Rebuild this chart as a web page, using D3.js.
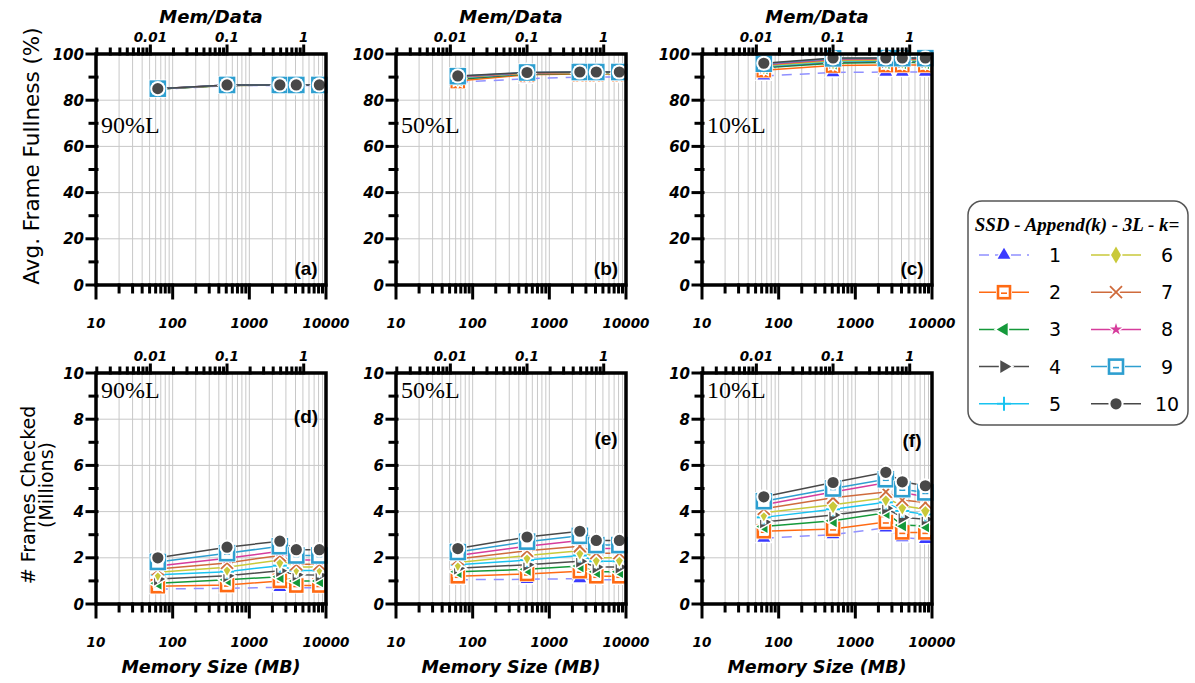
<!DOCTYPE html>
<html><head><meta charset="utf-8">
<script src="https://cdn.jsdelivr.net/npm/d3@7"></script>
<style>body{margin:0;background:#fff}svg{display:block}</style>
</head><body>
<svg id="c" width="1195" height="683"></svg>
<script>
// ---------------- DATA ----------------
const memorySizes = [64, 512, 2500, 4096, 8192];   // MB
const dataSizeMB = 5120;                            // Mem/Data = memory / dataSize
const seriesK = [1,2,3,4,5,6,7,8,9,10];
const xTickLabels = ["10","100","1000","10000"];
const topTickLabels = ["0.01","0.1","1"];
const loadLabels = ["90%L","50%L","10%L"];
const panelTags = ["(a)","(b)","(c)","(d)","(e)","(f)"];

// Avg. Frame Fullness (%), one row per k = 1..10
const fullness90 = [
  [84.7,86.3,86.4,86.4,86.4],[84.8,86.4,86.5,86.5,86.5],[84.8,86.4,86.5,86.5,86.5],
  [84.9,86.5,86.5,86.5,86.5],[84.9,86.5,86.5,86.5,86.5],[85.0,86.5,86.6,86.6,86.6],
  [85.0,86.5,86.6,86.6,86.6],[85.0,86.6,86.6,86.6,86.6],[85.0,86.6,86.6,86.6,86.6],
  [85.0,86.6,86.6,86.6,86.6]];
const fullness50 = [
  [87.8,89.3,90.0,90.0,90.0],[88.3,91.0,91.3,91.3,91.3],[89.0,91.4,91.6,91.6,91.6],
  [89.3,91.5,91.7,91.7,91.7],[89.6,91.6,91.8,91.8,91.8],[89.8,91.7,91.9,91.9,91.9],
  [90.0,91.8,92.0,92.0,92.0],[90.2,91.9,92.1,92.1,92.1],[90.4,92.0,92.2,92.2,92.2],
  [90.5,92.0,92.2,92.2,92.2]];
const fullness10 = [
  [90.5,92.0,92.2,92.2,92.2],[93.0,95.0,95.2,95.2,95.2],[94.0,96.0,96.3,96.3,96.3],
  [94.3,96.4,96.7,96.7,96.7],[94.6,96.8,97.1,97.1,97.1],[94.9,97.1,97.4,97.4,97.4],
  [95.2,97.5,97.7,97.7,97.7],[95.5,97.8,98.0,98.0,98.0],[95.8,98.1,98.2,98.2,98.2],
  [96.0,98.3,98.3,98.3,98.3]];
// # Frames Checked (Millions)
const checked90 = [
  [0.65,0.68,0.72,0.70,0.70],[0.77,0.82,1.00,0.80,0.80],[0.90,1.05,1.18,1.00,1.00],
  [1.08,1.22,1.44,1.27,1.25],[1.27,1.40,1.66,1.45,1.45],[1.37,1.59,1.90,1.60,1.60],
  [1.52,1.78,2.10,1.72,1.72],[1.65,1.98,2.28,1.90,1.90],[1.82,2.20,2.50,2.10,2.10],
  [2.00,2.46,2.72,2.35,2.35]];
const checked50 = [
  [1.05,1.07,1.10,1.05,1.05],[1.20,1.30,1.42,1.20,1.20],[1.40,1.50,1.65,1.40,1.40],
  [1.55,1.70,1.85,1.60,1.60],[1.70,1.90,2.10,1.85,1.85],[1.80,2.10,2.30,2.00,2.00],
  [1.95,2.30,2.50,2.20,2.20],[2.10,2.50,2.75,2.40,2.40],[2.25,2.70,2.95,2.55,2.55],
  [2.40,2.90,3.15,2.75,2.75]];
const checked10 = [
  [2.85,3.00,3.30,2.87,2.80],[3.15,3.25,3.55,3.10,3.10],[3.35,3.60,3.95,3.42,3.38],
  [3.55,3.85,4.15,3.75,3.67],[3.75,4.10,4.40,4.03,3.88],[3.95,4.30,4.60,4.25,4.10],
  [4.12,4.60,4.85,4.50,4.39],[4.30,4.85,5.25,4.83,4.64],[4.45,5.00,5.40,4.97,4.83],
  [4.64,5.26,5.70,5.29,5.12]];

// ---------------- STYLE ----------------
const lineColors   = ["#9090ff","#ff6a13","#14993a","#4d4d4d","#19c3f0","#c9c93a","#cf6b3c","#d63c9c","#2e9fd0","#484848"];
const markerColors = ["#3a3aff","#ff6a13","#14993a","#4d4d4d","#19c3f0","#c9c93a","#cf6b3c","#d63c9c","#2e9fd0","#484848"];
const shapes = ["triUp","sqDash","triLeft","triRight","plus","diamond","x","star","sqDashBig","circle"];

const panelX = [96, 396, 702], panelW = 230;
const rowY = [54, 373], panelH = 231;
const gridColor = "#c8c8c8";
const tickFont = "'DejaVu Sans', sans-serif";

const svg = d3.select("#c");

function drawMarker(g, k, cx, cy) {
  const c = markerColors[k-1], sh = shapes[k-1];
  const m = g.append("g").attr("transform", `translate(${cx},${cy})`);
  const halo = (sel, w) => sel.attr("stroke","#fff").attr("stroke-width",w).attr("paint-order","stroke");
  if (sh === "triUp" || sh === "triLeft" || sh === "triRight") {
    const rot = sh === "triUp" ? 0 : (sh === "triLeft" ? -90 : 90);
    halo(m.append("path").attr("d", d3.symbol(d3.symbolTriangle, 70)()).attr("fill", c)
      .attr("transform", `rotate(${rot})`), 3);
  } else if (sh === "sqDash" || sh === "sqDashBig") {
    const s = sh === "sqDash" ? 12 : 14;
    m.append("rect").attr("x",-s/2-2).attr("y",-s/2-2).attr("width",s+4).attr("height",s+4).attr("fill","#fff");
    m.append("rect").attr("x",-s/2).attr("y",-s/2).attr("width",s).attr("height",s)
      .attr("fill","#fff").attr("stroke",c).attr("stroke-width",2.6);
    m.append("line").attr("x1",-3).attr("x2",3).attr("y1",1).attr("y2",1).attr("stroke",c).attr("stroke-width",1.6);
  } else if (sh === "plus") {
    [[-7,0,7,0],[0,-7,0,7]].forEach(d => m.append("line").attr("x1",d[0]).attr("y1",d[1]).attr("x2",d[2]).attr("y2",d[3])
      .attr("stroke","#fff").attr("stroke-width",5));
    [[-7,0,7,0],[0,-7,0,7]].forEach(d => m.append("line").attr("x1",d[0]).attr("y1",d[1]).attr("x2",d[2]).attr("y2",d[3])
      .attr("stroke",c).attr("stroke-width",2));
  } else if (sh === "diamond") {
    halo(m.append("path").attr("d", d3.symbol(d3.symbolDiamond, 85)()).attr("fill", c), 3);
  } else if (sh === "x") {
    [[-6,-6,6,6],[-6,6,6,-6]].forEach(d => m.append("line").attr("x1",d[0]).attr("y1",d[1]).attr("x2",d[2]).attr("y2",d[3])
      .attr("stroke","#fff").attr("stroke-width",5));
    [[-6,-6,6,6],[-6,6,6,-6]].forEach(d => m.append("line").attr("x1",d[0]).attr("y1",d[1]).attr("x2",d[2]).attr("y2",d[3])
      .attr("stroke",c).attr("stroke-width",1.8));
  } else if (sh === "star") {
    halo(m.append("path").attr("d", d3.symbol(d3.symbolStar, 45)()).attr("fill", c), 2.5);
  } else if (sh === "circle") {
    m.append("circle").attr("r",6.6).attr("fill",c).attr("stroke","#fff").attr("stroke-width",2);
  }
}

const panels = [
  {row:0,col:0,vals:fullness90,yMax:100,yStep:20,tagPos:[306,268]},
  {row:0,col:1,vals:fullness50,yMax:100,yStep:20,tagPos:[306,268]},
  {row:0,col:2,vals:fullness10,yMax:100,yStep:20,tagPos:[306,268]},
  {row:1,col:0,vals:checked90,yMax:10,yStep:2,tagPos:[306,416]},
  {row:1,col:1,vals:checked50,yMax:10,yStep:2,tagPos:[306,438]},
  {row:1,col:2,vals:checked10,yMax:10,yStep:2,tagPos:[306,440]}
];

const bottomTicks = [];
for (let e = 1; e <= 3; e++) for (let m = 1; m <= 9; m++) bottomTicks.push(m * Math.pow(10, e));
bottomTicks.push(10000);

panels.forEach((p, i) => {
  const x0 = panelX[p.col], y0 = rowY[p.row];
  const x = d3.scaleLog().domain([10, 10000]).range([x0, x0 + panelW]);
  const xt = d3.scaleLog().domain([10 / dataSizeMB, 10000 / dataSizeMB]).range([x0, x0 + panelW]);
  const y = d3.scaleLinear().domain([0, p.yMax]).range([y0 + panelH, y0]);
  const g = svg.append("g");

  g.selectAll(".vg").data(bottomTicks.filter(d => d > 10 && d < 10000)).join("line")
    .attr("x1", d => x(d)).attr("x2", d => x(d)).attr("y1", y0).attr("y2", y0 + panelH)
    .attr("stroke", gridColor).attr("stroke-width", 1);
  const yMajors = d3.range(0, p.yMax + p.yStep / 2, p.yStep);
  g.selectAll(".hg").data(yMajors.filter(d => d > 0 && d < p.yMax)).join("line")
    .attr("x1", x0).attr("x2", x0 + panelW).attr("y1", d => y(d)).attr("y2", d => y(d))
    .attr("stroke", gridColor).attr("stroke-width", 1);

  const line = d3.line().x((d, j) => x(memorySizes[j])).y(d => y(d));
  seriesK.forEach((k, si) => {
    g.append("path").datum(p.vals[si]).attr("d", line).attr("fill", "none")
      .attr("stroke", lineColors[si]).attr("stroke-width", 1.5)
      .attr("stroke-dasharray", k === 1 ? "10,8" : null);
  });
  seriesK.forEach((k, si) => {
    p.vals[si].forEach((v, j) => drawMarker(g, k, x(memorySizes[j]), y(v)));
  });

  const ax = svg.append("g").attr("stroke", "#000").attr("stroke-linecap", "square");
  const yMinors = d3.range(p.yStep / 2, p.yMax, p.yStep);
  ax.selectAll(".ytM").data(yMajors).join("line").attr("x1", x0 - 9).attr("x2", x0 + 1)
    .attr("y1", d => y(d)).attr("y2", d => y(d)).attr("stroke-width", 3);
  ax.selectAll(".ytm").data(yMinors).join("line").attr("x1", x0 - 6).attr("x2", x0 + 1)
    .attr("y1", d => y(d)).attr("y2", d => y(d)).attr("stroke-width", 3);
  ax.selectAll(".bt").data(bottomTicks).join("line")
    .attr("x1", d => x(d)).attr("x2", d => x(d)).attr("y1", y0 + panelH)
    .attr("y2", d => y0 + panelH + ([10,100,1000,10000].includes(d) ? 13 : 7)).attr("stroke-width", 3);
  const topTicks = [];
  for (let e = -3; e <= 0; e++) for (let m = 1; m <= 9; m++) {
    const v = m * Math.pow(10, e);
    if (v >= 10 / dataSizeMB && v <= 10000 / dataSizeMB) topTicks.push(v);
  }
  ax.selectAll(".tt").data(topTicks).join("line")
    .attr("x1", d => xt(d)).attr("x2", d => xt(d)).attr("y1", y0)
    .attr("y2", d => y0 - ([0.001,0.01,0.1,1].some(t => Math.abs(t - d) < 1e-9) ? 8 : 5)).attr("stroke-width", 3);
  ax.append("rect").attr("x", x0).attr("y", y0).attr("width", panelW).attr("height", panelH)
    .attr("fill", "none").attr("stroke-width", 3.5);

  const lab = svg.append("g").attr("font-family", tickFont).attr("font-weight", "bold").attr("font-style", "italic").attr("fill", "#000");
  lab.selectAll(".yl").data(yMajors).join("text").attr("x", x0 - 12).attr("y", d => y(d) + 5.5)
    .attr("text-anchor", "end").attr("font-size", 15).text(d => d);
  lab.selectAll(".bl").data([10, 100, 1000, 10000]).join("text").attr("x", d => x(d)).attr("y", y0 + panelH + 43)
    .attr("text-anchor", "middle").attr("font-size", 13.5).text((d, j) => xTickLabels[j]);
  lab.selectAll(".tl").data([0.01, 0.1, 1]).join("text").attr("x", d => xt(d)).attr("y", y0 - 12)
    .attr("text-anchor", "middle").attr("font-size", 13.5).text((d, j) => topTickLabels[j]);

  svg.append("text").attr("x", x0 + 5).attr("y", p.row === 0 ? y0 + 79 : y0 + 25)
    .attr("font-family", "'Liberation Serif', serif").attr("font-size", 24).text(loadLabels[p.col]);
  svg.append("text").attr("x", x0 + p.tagPos[0] - 96).attr("y", p.tagPos[1] + 7)
    .attr("text-anchor", "middle").attr("font-family", "'Liberation Sans', sans-serif").attr("font-weight", "bold")
    .attr("font-size", 19).text(panelTags[i]);

  if (p.row === 0) {
    svg.append("text").attr("x", x0 + panelW / 2).attr("y", 23).attr("text-anchor", "middle")
      .attr("font-family", tickFont).attr("font-weight", "bold").attr("font-style", "italic").attr("font-size", 18).text("Mem/Data");
  } else {
    svg.append("text").attr("x", x0 + panelW / 2).attr("y", 673).attr("text-anchor", "middle")
      .attr("font-family", tickFont).attr("font-weight", "bold").attr("font-style", "italic").attr("font-size", 17.5).text("Memory Size (MB)");
  }
});

svg.append("text").attr("transform", "translate(39,156) rotate(-90)").attr("text-anchor", "middle")
  .attr("font-family", "'DejaVu Sans', sans-serif").attr("font-size", 21.5).text("Avg. Frame Fullness (%)");
svg.append("text").attr("transform", "translate(35,495) rotate(-90)").attr("text-anchor", "middle")
  .attr("font-family", "'DejaVu Sans', sans-serif").attr("font-size", 19).text("# Frames Checked");
svg.append("text").attr("transform", "translate(53,485) rotate(-90)").attr("text-anchor", "middle")
  .attr("font-family", "'DejaVu Sans', sans-serif").attr("font-size", 19).text("(Millions)");

// legend
const lg = svg.append("g");
lg.append("rect").attr("x", 968).attr("y", 201).attr("width", 220).attr("height", 224).attr("rx", 14)
  .attr("fill", "#fff").attr("stroke", "#555").attr("stroke-width", 1.5);
lg.append("text").attr("x", 1077).attr("y", 231).attr("text-anchor", "middle").attr("font-family", "'Liberation Serif', serif")
  .attr("font-weight", "bold").attr("font-style", "italic").attr("font-size", 19)
  .text("SSD - Append(k) - 3L - k=");
seriesK.forEach((k, si) => {
  const col = si < 5 ? 0 : 1, row = si % 5;
  const cx = col === 0 ? 1004 : 1116, cy = 255 + row * 37.2;
  lg.append("line").attr("x1", cx - 25).attr("x2", cx + 25).attr("y1", cy).attr("y2", cy)
    .attr("stroke", lineColors[si]).attr("stroke-width", 1.5).attr("stroke-dasharray", k === 1 ? "10,6" : null);
  drawMarker(lg, k, cx, cy);
  lg.append("text").attr("x", col === 0 ? 1055 : 1167).attr("y", cy + 7).attr("text-anchor", "middle")
    .attr("font-family", "'DejaVu Sans', sans-serif").attr("font-size", 19).text(k);
});
</script>
</body></html>
